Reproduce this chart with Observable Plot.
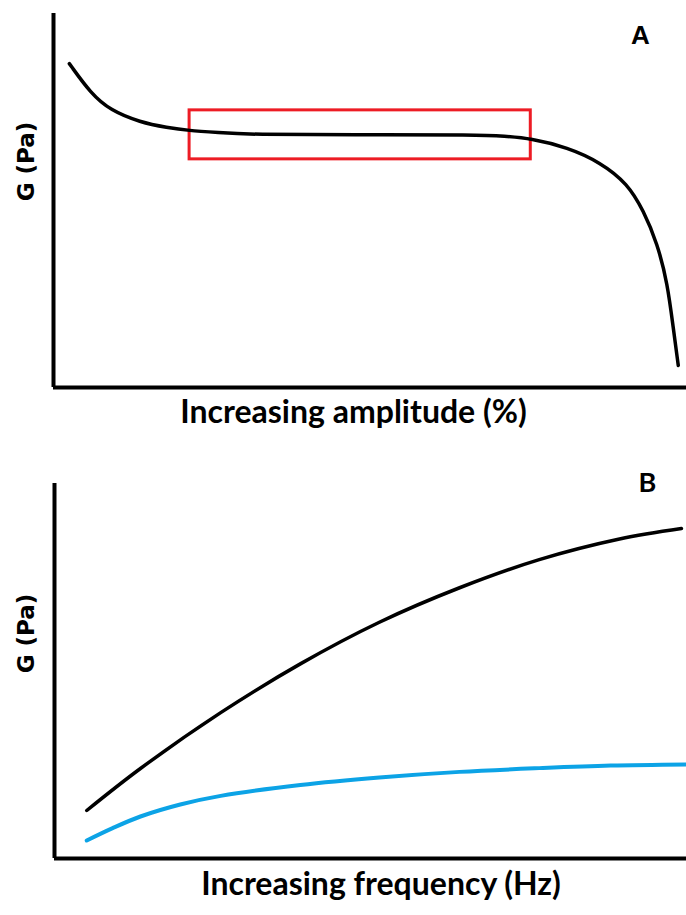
<!DOCTYPE html>
<html>
<head>
<meta charset="utf-8">
<script src="https://cdn.jsdelivr.net/npm/d3@7"></script>
<script src="https://cdn.jsdelivr.net/npm/@observablehq/plot@0.6"></script>
<style>
  html, body { margin: 0; padding: 0; background: #fff; }
  #chart { width: 686px; }
  #chart svg { display: block; }
</style>
</head>
<body>
<div id="chart"></div>
<script>
// Panel A: amplitude sweep (relative units 0–100)
const ampX = [2.5, 5.9, 9.0, 13.7, 18.0, 21.3, 25.9, 31.4, 46.9, 67.5, 71.1, 75.4, 81.2, 86.4, 90.7, 93.2, 95.4, 97.0, 97.9, 98.7];
const ampG = [86.6, 78.6, 74.1, 70.9, 69.5, 68.7, 68.2, 67.6, 67.6, 67.6, 67.2, 66.6, 64.2, 60.2, 54.5, 47.3, 38.5, 27.8, 16.0, 5.9];
// Linear viscoelastic region box
const lveX = [21.5, 75.4];
const lveG = [61.0, 74.1];

// Panel B: frequency sweep (relative units 0–100)
const freqX = [5.1, 13.6, 26.3, 38.9, 51.4, 64.1, 76.7, 89.4, 99.2];
const storageG = [12.8, 24.0, 38.9, 51.9, 63.0, 72.2, 79.7, 85.2, 88.0];
const freqX2 = [5.1, 9.2, 13.6, 19.9, 26.3, 38.9, 51.4, 64.1, 76.7, 88.0, 100];
const lossG = [4.8, 8.1, 11.2, 14.4, 16.7, 19.6, 21.6, 23.1, 24.1, 24.8, 25.1];

const panelLabels = ["A", "B"];
const xLabels = ["Increasing amplitude (%)", "Increasing frequency (Hz)"];
const yLabel = "G (Pa)";

const ampData = ampX.map((x, i) => ({x, g: ampG[i]}));
const storageData = freqX.map((x, i) => ({x, g: storageG[i]}));
const lossData = freqX2.map((x, i) => ({x, g: lossG[i]}));
const lveBox = [{x1: lveX[0], x2: lveX[1], y1: lveG[0], y2: lveG[1]}];

const labelFont = "Lato, 'Open Sans', sans-serif";
const gFont = "'DejaVu Sans', Verdana, sans-serif";

const plotA = Plot.plot({
  width: 686,
  height: 440,
  marginLeft: 53,
  marginRight: 0,
  marginTop: 13,
  marginBottom: 53,
  x: {domain: [0, 100], axis: null},
  y: {domain: [0, 100], axis: null},
  marks: [
    Plot.ruleX([0], {stroke: "black", strokeWidth: 4}),
    Plot.ruleY([0], {stroke: "black", strokeWidth: 4}),
    Plot.rect(lveBox, {x1: "x1", x2: "x2", y1: "y1", y2: "y2", fill: "none", stroke: "#ed1c24", strokeWidth: 3}),
    Plot.line(ampData, {x: "x", y: "g", stroke: "black", strokeWidth: 3.5, curve: "basis"}),
    Plot.text([xLabels[0]], {frameAnchor: "bottom", textAnchor: "middle", dx: -16.5, dy: 35, text: d => d, fontSize: 32, fontWeight: "bold", fontFamily: labelFont, fill: "black"}),
    Plot.text([yLabel], {frameAnchor: "left", textAnchor: "middle", dx: -27, dy: -39, rotate: -90, text: d => d, fontSize: 23, fontWeight: "bold", fontFamily: gFont, fill: "black"}),
    Plot.text([panelLabels[0]], {frameAnchor: "top-right", textAnchor: "middle", dx: -46, dy: 12, text: d => d, fontSize: 26, fontWeight: "bold", fontFamily: "'Liberation Sans', Arial, sans-serif", fill: "black"})
  ]
});

const plotB = Plot.plot({
  width: 686,
  height: 475,
  marginLeft: 54,
  marginRight: 0,
  marginTop: 43,
  marginBottom: 57,
  x: {domain: [0, 100], axis: null},
  y: {domain: [0, 100], axis: null},
  marks: [
    Plot.ruleX([0], {stroke: "black", strokeWidth: 4}),
    Plot.ruleY([0], {stroke: "black", strokeWidth: 4}),
    Plot.line(storageData, {x: "x", y: "g", stroke: "black", strokeWidth: 3.5, curve: "catmull-rom"}),
    Plot.line(lossData, {x: "x", y: "g", stroke: "#0ca3e6", strokeWidth: 4, curve: "catmull-rom"}),
    Plot.text([xLabels[1]], {frameAnchor: "bottom", textAnchor: "middle", dx: 10.5, dy: 36, text: d => d, fontSize: 32, fontWeight: "bold", fontFamily: labelFont, fill: "black"}),
    Plot.text([yLabel], {frameAnchor: "left", textAnchor: "middle", dx: -28, dy: -37.5, rotate: -90, text: d => d, fontSize: 23, fontWeight: "bold", fontFamily: gFont, fill: "black"}),
    Plot.text([panelLabels[1]], {frameAnchor: "top-right", textAnchor: "middle", dx: -39, dy: -11, text: d => d, fontSize: 27, fontWeight: "bold", fontFamily: labelFont, fill: "black"})
  ]
});

document.getElementById("chart").append(plotA, plotB);
</script>
</body>
</html>
